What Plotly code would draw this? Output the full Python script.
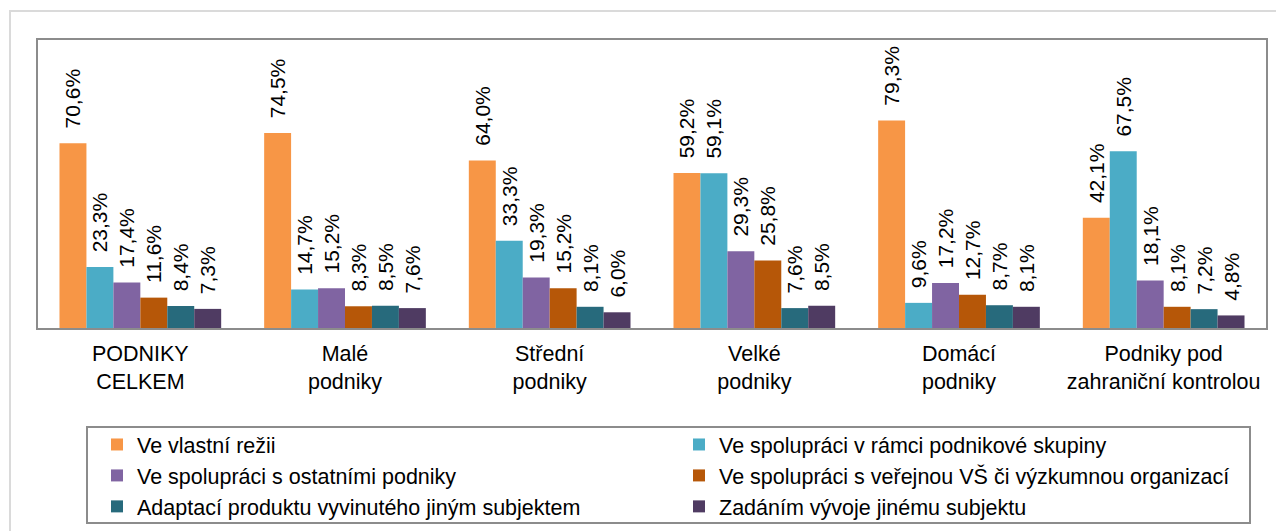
import plotly.graph_objects as go

categories = ["PODNIKY<br>CELKEM", "Malé<br>podniky", "Střední<br>podniky", "Velké<br>podniky",
              "Domácí<br>podniky", "Podniky pod<br>zahraniční kontrolou"]

series_names = [
    "Ve vlastní režii",
    "Ve spolupráci v rámci podnikové skupiny",
    "Ve spolupráci s ostatními podniky",
    "Ve spolupráci s veřejnou VŠ či výzkumnou organizací",
    "Adaptací produktu vyvinutého jiným subjektem",
    "Zadáním vývoje jinému subjektu",
]

vlastni_rezie = [70.6, 74.5, 64.0, 59.2, 79.3, 42.1]
podnikova_skupina = [23.3, 14.7, 33.3, 59.1, 9.6, 67.5]
ostatni_podniky = [17.4, 15.2, 19.3, 29.3, 17.2, 18.1]
vs_vyzkum = [11.6, 8.3, 15.2, 25.8, 12.7, 8.1]
adaptace = [8.4, 8.5, 8.1, 7.6, 8.7, 7.2]
zadani = [7.3, 7.6, 6.0, 8.5, 8.1, 4.8]

series_values = [vlastni_rezie, podnikova_skupina, ostatni_podniky, vs_vyzkum, adaptace, zadani]
colors = ["#F79646", "#4BACC6", "#8064A2", "#B65708", "#276A7C", "#4F3B62"]

# page has an 8px body margin, so the figure is drawn 8px in from the window edge
W, H = 1276, 523
L, R, T, B = 30, 18, 32, 203
FONT = "Liberation Sans, Arial, sans-serif"
FS = 21.5

fig = go.Figure()
for name, vals, col in zip(series_names, series_values, colors):
    fig.add_trace(go.Bar(
        x=categories, y=vals, name=name,
        marker=dict(color=col, line=dict(width=0)),
        texttemplate="\u00a0\u00a0%{y:.1f}%",
        textposition="outside", textangle=-90,
        constraintext="none", cliponaxis=False,
        textfont=dict(family=FONT, size=21, color="black"),
    ))

pw = W - L - R
ph = H - T - B

def px_x(px):
    return (px - L) / pw

def px_y(py):
    return (H - B - py) / ph

shapes = [
    # outer light frame
    dict(type="rect", xref="paper", yref="paper",
         x0=px_x(2), x1=px_x(1300), y0=px_y(545), y1=px_y(3),
         line=dict(color="#DADADA", width=2), layer="below"),
    # legend box
    dict(type="rect", xref="paper", yref="paper",
         x0=px_x(79), x1=px_x(1242), y0=px_y(515), y1=px_y(419),
         line=dict(color="#8C8C8C", width=2)),
]

fig.update_layout(
    width=W, height=H,
    margin=dict(l=L, r=R, t=T, b=B),
    paper_bgcolor="white", plot_bgcolor="white",
    separators=", ",
    barmode="group", bargap=0.21, bargroupgap=0,
    font=dict(family=FONT, size=FS, color="black"),
    showlegend=True,
    legend=dict(
        orientation="h", xref="container", yref="container",
        x=89 / W, xanchor="left", y=1 - 416 / H, yanchor="top",
        entrywidth=537, entrywidthmode="pixels",
        bgcolor="rgba(0,0,0,0)", borderwidth=0,
        font=dict(family=FONT, size=FS, color="black"),
        traceorder="normal",
    ),
    shapes=shapes,
)
fig.update_xaxes(showline=True, mirror=True, linecolor="#8C8C8C", linewidth=2,
                 ticks="", showgrid=False, ticklabelstandoff=5,
                 tickfont=dict(family=FONT, size=FS, color="black"))
fig.update_yaxes(range=[0, 110], showline=True, mirror=True, linecolor="#8C8C8C", linewidth=2,
                 showticklabels=False, ticks="", showgrid=False, zeroline=False)

fig.write_html("out.html")
